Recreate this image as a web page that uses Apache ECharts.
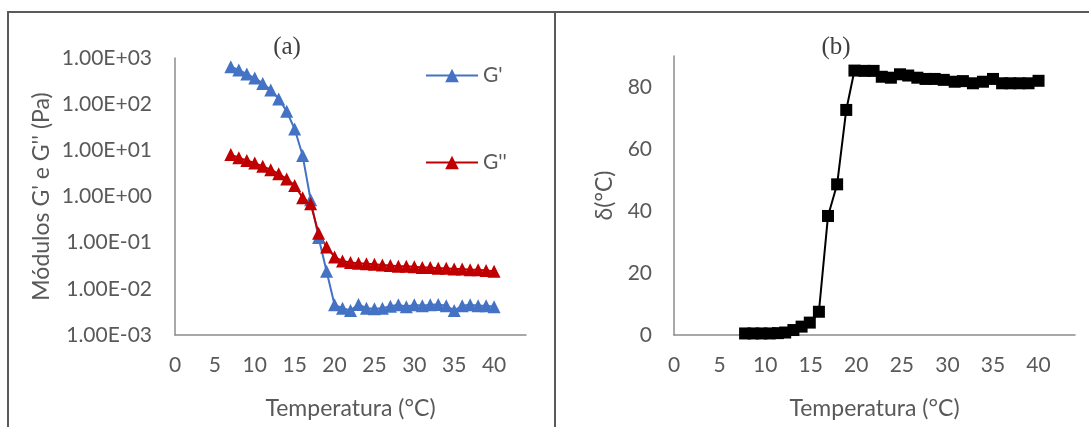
<!DOCTYPE html>
<html>
<head>
<meta charset="utf-8">
<script src="https://cdn.jsdelivr.net/npm/echarts@6/dist/echarts.min.js"></script>
<style>
html,body{margin:0;padding:0;background:#fff;}
#c{width:1089px;height:427px;}
</style>
</head>
<body>
<div id="c"></div>
<script>
// ---- Data (a): moduli vs temperature ----
const tempA = [7,8,9,10,11,12,13,14,15,16,17,18,19,20,21,22,23,24,25,26,27,28,29,30,31,32,33,34,35,36,37,38,39,40];
const gPrime = [646,550,449,368,282,203,130,70,29,7.7,0.85,0.13,0.024,0.0045,0.0038,0.0034,0.0046,0.0038,0.0037,0.0038,0.0042,0.0045,0.0041,0.0045,0.0043,0.0045,0.0046,0.0043,0.0034,0.0043,0.0045,0.0043,0.0043,0.0041];
const gDouble = [8.1,6.9,6.0,5.3,4.5,3.8,3.1,2.4,1.74,0.94,0.70,0.16,0.081,0.049,0.040,0.037,0.036,0.035,0.034,0.033,0.032,0.031,0.031,0.030,0.029,0.029,0.028,0.028,0.027,0.027,0.026,0.026,0.025,0.024];
// ---- Data (b): delta vs temperature ----
const tempB = [7.8,8.7,9.6,10.5,11.4,12.2,13.1,14.0,14.9,15.9,16.9,17.9,18.9,19.8,20.9,21.9,22.8,23.8,24.8,25.7,26.7,27.6,28.6,29.6,30.8,31.7,32.8,33.9,35.0,36.0,36.9,37.9,38.9,40.0];
const delta = [0.5,0.5,0.5,0.5,0.6,0.8,1.6,2.7,4.0,7.5,38.4,48.6,72.6,85.3,85.2,85.2,83.3,83.0,84.1,83.7,83.0,82.6,82.6,82.3,81.7,81.9,81.2,81.7,82.6,81.2,81.2,81.2,81.2,82.0];
const seriesNames = ["G'", "G''"];
const panelTitles = ["(a)", "(b)"];
const xName = "Temperatura (°C)";
const yNameA = "Módulos G' e G'' (Pa)";
const yNameB = "δ(°C)";

const pair = (xs, ys) => xs.map((x, i) => [x, ys[i]]);
const gray = '#595959';
const font = 'Lato';
const axisLine = {show: true, lineStyle: {color: '#8c8c8c', width: 1.5}};

function sciLabel(v) {
  const e = Math.round(Math.log10(v));
  return '1.00E' + (e < 0 ? '-' : '+') + String(Math.abs(e)).padStart(2, '0');
}

const chart = echarts.init(document.getElementById('c'), null, {renderer: 'canvas'});
chart.setOption({
  animation: false,
  backgroundColor: '#fff',
  textStyle: {fontFamily: font},
  title: [
    {text: panelTitles[0], left: 282, top: 30, textAlign: 'center',
     textStyle: {fontFamily: 'Liberation Serif', fontWeight: 'normal', fontSize: 25, color: '#404040'}},
    {text: panelTitles[1], left: 831, top: 30, textAlign: 'center',
     textStyle: {fontFamily: 'Liberation Serif', fontWeight: 'normal', fontSize: 25, color: '#404040'}}
  ],
  legend: [
    {data: [seriesNames[0]], left: 425, top: 65, padding: 0, itemWidth: 52, itemHeight: 17,
     textStyle: {fontFamily: font, fontSize: 21, color: gray}},
    {data: [seriesNames[1]], left: 425, top: 152, padding: 0, itemWidth: 52, itemHeight: 17,
     textStyle: {fontFamily: font, fontSize: 21, color: gray}}
  ],
  grid: [
    {left: 175, top: 58, width: 351, height: 277},
    {left: 674, top: 56, width: 401, height: 279}
  ],
  xAxis: [
    {gridIndex: 0, type: 'value', min: 0, max: 44, interval: 5,
     axisLine: axisLine, axisTick: {show: false}, splitLine: {show: false},
     axisLabel: {showMaxLabel: false, margin: 20, fontSize: 21, color: gray, fontFamily: font},
     name: xName, nameLocation: 'middle', nameGap: 62,
     nameTextStyle: {fontSize: 23, color: gray, fontFamily: font}},
    {gridIndex: 1, type: 'value', min: 0, max: 44, interval: 5,
     axisLine: axisLine, axisTick: {show: false}, splitLine: {show: false},
     axisLabel: {showMaxLabel: false, margin: 20, fontSize: 21, color: gray, fontFamily: font},
     name: xName, nameLocation: 'middle', nameGap: 62,
     nameTextStyle: {fontSize: 23, color: gray, fontFamily: font}}
  ],
  yAxis: [
    {gridIndex: 0, type: 'log', logBase: 10, min: 0.001, max: 1000,
     axisLine: axisLine, axisTick: {show: false}, splitLine: {show: false},
     axisLabel: {formatter: sciLabel, margin: 23, fontSize: 21, color: gray, fontFamily: font},
     name: yNameA, nameLocation: 'middle', nameGap: 122, nameRotate: 90,
     nameTextStyle: {fontSize: 23, color: gray, fontFamily: font}},
    {gridIndex: 1, type: 'value', min: 0, max: 90, interval: 20,
     axisLine: axisLine, axisTick: {show: false}, splitLine: {show: false},
     axisLabel: {showMaxLabel: false, margin: 22, fontSize: 21, color: gray, fontFamily: font},
     name: yNameB, nameLocation: 'middle', nameGap: 58, nameRotate: 90,
     nameTextStyle: {fontSize: 23, color: gray, fontFamily: font}}
  ],
  series: [
    {name: seriesNames[0], type: 'line', xAxisIndex: 0, yAxisIndex: 0,
     data: pair(tempA, gPrime), symbol: 'triangle', symbolSize: 13,
     itemStyle: {color: '#4472C4'}, lineStyle: {color: '#4472C4', width: 2}},
    {name: seriesNames[1], type: 'line', xAxisIndex: 0, yAxisIndex: 0,
     data: pair(tempA, gDouble), symbol: 'triangle', symbolSize: 13,
     itemStyle: {color: '#C00000'}, lineStyle: {color: '#C00000', width: 2}},
    {name: 'delta', type: 'line', xAxisIndex: 1, yAxisIndex: 1,
     data: pair(tempB, delta), symbol: 'rect', symbolSize: 12,
     itemStyle: {color: '#000'}, lineStyle: {color: '#000', width: 2}}
  ],
  graphic: [
    {type: 'polyline', shape: {points: [[8, 427], [8, 12], [1089, 12]]},
     style: {stroke: '#5a5a5a', lineWidth: 2, fill: null}},
    {type: 'line', shape: {x1: 555, y1: 12, x2: 555, y2: 427},
     style: {stroke: '#5a5a5a', lineWidth: 2}}
  ]
});
</script>
</body>
</html>
